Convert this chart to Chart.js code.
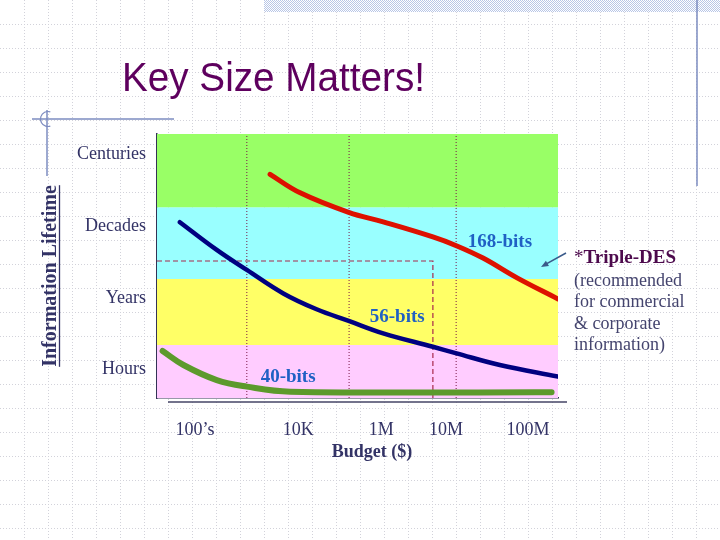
<!DOCTYPE html>
<html><head><meta charset="utf-8">
<script src="https://cdn.jsdelivr.net/npm/chart.js@4.4.1/dist/chart.umd.min.js"></script>
<style>html,body{margin:0;padding:0;background:#fff}canvas{display:block}</style>
</head><body>
<canvas id="c" width="720" height="540"></canvas>
<script>
// ---- data (budget axis 0..100, lifetime axis 0..100) ----
const budgetTicks = ["100\u2019s", "10K", "1M", "10M", "100M"];
const budgetTickPos = [9.5, 35.2, 55.9, 72.1, 92.5];
const lifetimeTicks = ["Hours", "Years", "Decades", "Centuries"];
const lifetimeTickPos = [11.0, 37.9, 65.2, 92.4];
const bandNames = ["Centuries", "Decades", "Years", "Hours"];
const bandTops = [100, 72.3, 45.1, 20.1];

const bits168X = [28.2, 35.7, 47.8, 56.4, 68.8, 74.8, 81.3, 89.8, 100];
const bits168Y = [84.7, 77.7, 70.3, 66.7, 61.0, 57.6, 53.0, 45.5, 37.5];
const bits56X = [5.7, 14.9, 22.4, 31.5, 39.8, 47.8, 56.4, 68.8, 74.7, 85.5, 100];
const bits56Y = [66.6, 56.1, 48.5, 39.6, 33.6, 29.2, 24.5, 19.4, 16.9, 12.5, 8.1];
const bits40X = [1.4, 6.6, 14.9, 22.4, 33.2, 98.4];
const bits40Y = [17.8, 12.5, 6.8, 4.3, 2.4, 2.2];

const guideX = [22.4, 47.9, 74.6];
const boxX = [0, 68.8, 68.8];
const boxY = [51.9, 51.9, 0];

// ---- helpers ----
const xy = (xs, ys) => xs.map((x, i) => ({ x, y: ys[i] }));
const bandColors = ["#99ff66", "#99ffff", "#ffff66", "#ffccff"];
const SERIF = '"Liberation Serif", "Times New Roman", serif';

const datasets = [];
bandTops.forEach((t, i) => {
  datasets.push({
    label: bandNames[i], data: [{ x: 0, y: t }, { x: 100, y: t }],
    fill: i < bandTops.length - 1 ? '+1' : 'origin',
    backgroundColor: bandColors[i], borderWidth: 0, pointRadius: 0, order: 20
  });
});
guideX.forEach(g => {
  datasets.push({
    data: [{ x: g, y: 0 }, { x: g, y: 100 }], borderColor: '#7a1848', borderWidth: 1,
    borderDash: [1, 2], pointRadius: 0, fill: false, order: 10
  });
});
datasets.push({
  data: xy(boxX, boxY), borderColor: '#a8284c', borderWidth: 1.2, borderDash: [5, 3],
  pointRadius: 0, fill: false, order: 9
});
const curve = (label, xs, ys, color, w) => ({
  label, data: xy(xs, ys), borderColor: color, borderWidth: w, pointRadius: 0, fill: false,
  tension: 0.4, borderCapStyle: 'round', borderJoinStyle: 'round', order: 1
});
datasets.push(curve('168-bits', bits168X, bits168Y, '#dd1100', 5));
datasets.push(curve('56-bits', bits56X, bits56Y, '#000080', 4.5));
datasets.push(curve('40-bits', bits40X, bits40Y, '#5c9a2c', 6));

const curveLabels = [
  { text: '168-bits', x: 85.5, y: 59.1 },
  { text: '56-bits', x: 59.9, y: 30.7 },
  { text: '40-bits', x: 32.7, y: 7.9 }
];

const deco = {
  id: 'deco',
  beforeDraw(chart) {
    const ctx = chart.ctx;
    ctx.save();
    ctx.fillStyle = '#fff'; ctx.fillRect(0, 0, 720, 540);
    // dotted background grid
    ctx.strokeStyle = '#d2d2da'; ctx.lineWidth = 1; ctx.setLineDash([1, 2]);
    for (let x = 24; x < 720; x += 24) { ctx.beginPath(); ctx.moveTo(x + 0.5, 0); ctx.lineTo(x + 0.5, 540); ctx.stroke(); }
    for (let y = 24; y < 540; y += 24) { ctx.beginPath(); ctx.moveTo(0, y + 0.5); ctx.lineTo(720, y + 0.5); ctx.stroke(); }
    ctx.setLineDash([]);
    // hatched top band
    const p = document.createElement('canvas'); p.width = 2; p.height = 2;
    const pc = p.getContext('2d'); pc.fillStyle = '#ffffff'; pc.fillRect(0, 0, 2, 2);
    pc.fillStyle = '#b8c6e6'; pc.fillRect(0, 0, 1, 1); pc.fillRect(1, 1, 1, 1);
    ctx.fillStyle = ctx.createPattern(p, 'repeat'); ctx.fillRect(264, 0, 456, 12);
    // decorative lines
    ctx.strokeStyle = '#7d8cc0'; ctx.lineWidth = 1.5;
    ctx.beginPath(); ctx.moveTo(697, 0); ctx.lineTo(697, 186); ctx.stroke();
    ctx.beginPath(); ctx.moveTo(32, 119); ctx.lineTo(174, 119); ctx.stroke();
    ctx.beginPath(); ctx.moveTo(47, 110); ctx.lineTo(47, 176); ctx.stroke();
    ctx.lineWidth = 1.2;
    ctx.beginPath(); ctx.arc(48, 119, 7.5, -0.4 * Math.PI, 0.4 * Math.PI, true); ctx.stroke();
    ctx.restore();
  },
  afterDraw(chart) {
    const ctx = chart.ctx, xs = chart.scales.x, ys = chart.scales.y;
    ctx.save();
    // title
    ctx.font = '40px "Liberation Sans", sans-serif';
    ctx.fillStyle = '#5e005e'; ctx.textBaseline = 'alphabetic'; ctx.textAlign = 'left';
    const tt = 'Key Size Matters!';
    const tw = ctx.measureText(tt).width;
    ctx.save(); ctx.translate(122, 91); ctx.scale(303 / tw, 1); ctx.fillText(tt, 0, 0); ctx.restore();
    // second axis line under chart
    ctx.strokeStyle = '#444466'; ctx.lineWidth = 1.5;
    ctx.beginPath(); ctx.moveTo(168, 402); ctx.lineTo(567, 402); ctx.stroke();
    // axis titles
    ctx.fillStyle = '#333366';
    ctx.font = 'bold 18px ' + SERIF; ctx.textAlign = 'center'; ctx.textBaseline = 'middle';
    ctx.fillText('Budget ($)', 372, 452);
    ctx.save(); ctx.translate(51, 276); ctx.rotate(-Math.PI / 2);
    ctx.font = 'bold 20px ' + SERIF;
    const yt = 'Information Lifetime';
    ctx.fillText(yt, 0, 0);
    const yw = ctx.measureText(yt).width;
    ctx.strokeStyle = '#333366'; ctx.lineWidth = 1.3;
    ctx.beginPath(); ctx.moveTo(-yw / 2, 8.5); ctx.lineTo(yw / 2, 8.5); ctx.stroke();
    ctx.restore();
    // curve labels
    ctx.font = 'bold 19px ' + SERIF; ctx.fillStyle = '#1f60c4';
    curveLabels.forEach(l => ctx.fillText(l.text, xs.getPixelForValue(l.x), ys.getPixelForValue(l.y)));
    // annotation
    ctx.textAlign = 'left';
    ctx.fillStyle = '#4d0a4d';
    ctx.font = '19px ' + SERIF; ctx.fillText('*', 574, 258);
    const sw = ctx.measureText('*').width;
    ctx.font = 'bold 19px ' + SERIF; ctx.fillText('Triple-DES', 574 + sw, 258);
    ctx.fillStyle = '#44446e'; ctx.font = '18px ' + SERIF;
    ['(recommended', 'for commercial', '& corporate', 'information)'].forEach((s, i) => ctx.fillText(s, 574, 281 + i * 21.5));
    // arrow
    ctx.strokeStyle = '#3a5a8a'; ctx.fillStyle = '#3a5a8a'; ctx.lineWidth = 1.5;
    const ax0 = 566, ay0 = 253, ax1 = 541, ay1 = 267;
    ctx.beginPath(); ctx.moveTo(ax0, ay0); ctx.lineTo(ax1 + 4, ay1 - 2.3); ctx.stroke();
    const ang = Math.atan2(ay1 - ay0, ax1 - ax0);
    ctx.beginPath(); ctx.moveTo(ax1, ay1);
    ctx.lineTo(ax1 - 8 * Math.cos(ang - 0.4), ay1 - 8 * Math.sin(ang - 0.4));
    ctx.lineTo(ax1 - 8 * Math.cos(ang + 0.4), ay1 - 8 * Math.sin(ang + 0.4));
    ctx.closePath(); ctx.fill();
    ctx.restore();
  }
};

new Chart(document.getElementById('c'), {
  type: 'line',
  data: { datasets },
  options: {
    responsive: false, animation: false, events: [],
    layout: { padding: { top: 134, right: 162, left: 0, bottom: 0 } },
    plugins: { legend: { display: false }, tooltip: { enabled: false }, title: { display: false } },
    scales: {
      x: {
        type: 'linear', min: 0, max: 100,
        afterFit(s) { s.height = 142; },
        afterBuildTicks(s) { s.ticks = budgetTickPos.map(v => ({ value: v })); },
        ticks: { callback: (v, i) => budgetTicks[i], autoSkip: false, maxRotation: 0, padding: 21,
          font: { family: SERIF, size: 18 }, color: '#333366' },
        grid: { display: false, drawTicks: false },
        border: { display: true, color: '#333355', width: 1.5 }
      },
      y: {
        type: 'linear', min: 0, max: 100,
        afterFit(s) { s.width = 157; },
        afterBuildTicks(s) { s.ticks = lifetimeTickPos.map(v => ({ value: v })); },
        ticks: { callback: (v, i) => lifetimeTicks[i], autoSkip: false, padding: 11,
          font: { family: SERIF, size: 18 }, color: '#333366' },
        grid: { display: false, drawTicks: false },
        border: { display: true, color: '#333355', width: 1.5 }
      }
    }
  },
  plugins: [deco]
});
</script>
</body></html>
